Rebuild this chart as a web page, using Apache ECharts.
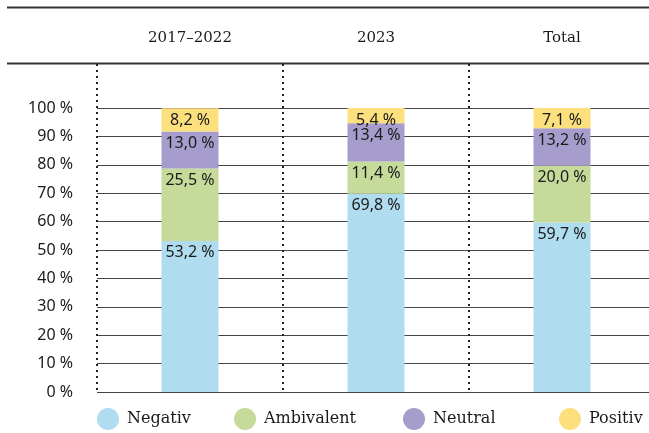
<!DOCTYPE html>
<html>
<head>
<meta charset="utf-8">
<script src="https://cdn.jsdelivr.net/npm/echarts@6/dist/echarts.min.js"></script>
<style>
  html, body { margin: 0; padding: 0; background: #fff; }
  #chart { width: 649px; height: 433px; }
</style>
</head>
<body>
<div id="chart"></div>
<script>
// Periods shown as columns
const categories = ['2017–2022', '2023', 'Total'];

// Share of each attitude per period, in percent
const negativ    = [53.2, 69.8, 59.7];
const ambivalent = [25.5, 11.4, 20.0];
const neutral    = [13.0, 13.4, 13.2];
const positiv    = [8.2, 5.4, 7.1];

const seriesNames = ['Negativ', 'Ambivalent', 'Neutral', 'Positiv'];
const seriesValues = [negativ, ambivalent, neutral, positiv];
const seriesColors = ['#afdcef', '#c6da9a', '#a69dcc', '#fde07e'];

// Y axis ticks: 0 % .. 100 %
const yMin = 0, yMax = 100, yStep = 10;

const sansFont = '"Noto Sans", "Open Sans", sans-serif';
const serifFont = '"DejaVu Serif", serif';

const fmt = v => v.toFixed(1).replace('.', ',') + ' %';

const chart = echarts.init(document.getElementById('chart'), null, { renderer: 'canvas' });

const legendLefts = [97, 234, 403, 559];

chart.setOption({
  animation: false,
  backgroundColor: '#ffffff',
  grid: [
    { left: 97, width: 558, top: 108, bottom: 41, outerBoundsMode: 'none', containLabel: false },
    { left: 97, width: 558, top: 64, bottom: 41, outerBoundsMode: 'none', containLabel: false }
  ],
  xAxis: [
    {
      type: 'category', gridIndex: 0, data: categories,
      axisLine: { show: false }, axisTick: { show: false },
      axisLabel: { show: false }, splitLine: { show: false }
    },
    {
      type: 'category', gridIndex: 1, data: categories, position: 'top',
      axisLine: { show: false }, axisTick: { show: false },
      axisLabel: { show: true, margin: 18, color: '#1a1a1a', fontFamily: serifFont, fontSize: 15 },
      splitLine: { show: true, lineStyle: { color: '#222', width: 2, type: [2, 4] } }
    }
  ],
  yAxis: [
    {
      type: 'value', gridIndex: 0, min: yMin, max: yMax, interval: yStep,
      axisLine: { show: false }, axisTick: { show: false },
      axisLabel: {
        margin: 24, color: '#1a1a1a', fontFamily: sansFont, fontSize: 16,
        formatter: v => v + ' %'
      },
      splitLine: { show: true, lineStyle: { color: '#444', width: 1.2 } }
    },
    {
      type: 'value', gridIndex: 1, min: 0, max: 1, show: false
    }
  ],
  legend: seriesNames.map((n, i) => ({
    data: [n],
    left: legendLefts[i], top: 408, padding: 0,
    icon: 'circle', itemWidth: 22, itemHeight: 22,
    selectedMode: false,
    textStyle: { color: '#1a1a1a', fontFamily: serifFont, fontSize: 16, padding: [0, 0, 0, 3] }
  })),
  series: seriesNames.map((n, i) => ({
    name: n,
    type: 'bar',
    stack: 'total',
    xAxisIndex: 0, yAxisIndex: 0,
    data: seriesValues[i],
    barWidth: 57,
    itemStyle: { color: seriesColors[i] },
    label: {
      show: true, position: 'insideTop', distance: 4,
      color: '#1a1a1a', fontFamily: sansFont, fontSize: 16,
      formatter: p => fmt(p.value)
    }
  })),
  graphic: [
    { type: 'line', shape: { x1: 7, y1: 7.5, x2: 649, y2: 7.5 }, style: { stroke: '#333', lineWidth: 2 } },
    { type: 'line', shape: { x1: 7, y1: 63.5, x2: 649, y2: 63.5 }, style: { stroke: '#333', lineWidth: 2 } }
  ]
});
</script>
</body>
</html>
